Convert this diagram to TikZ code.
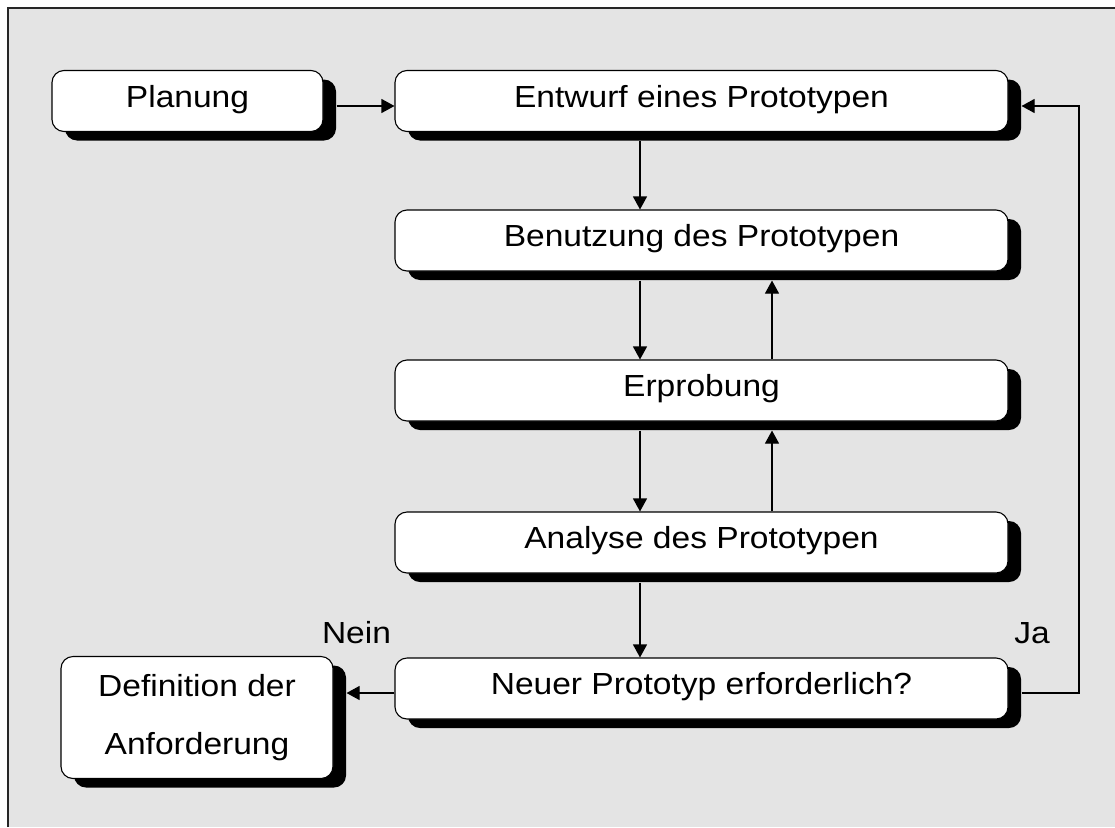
\documentclass[tikz,border=0pt]{standalone}
\usepackage{fontspec}
\setmainfont[FakeStretch=1.1]{Liberation Sans}
\usetikzlibrary{shadows,arrows.meta,calc}
\definecolor{bg}{RGB}{228,228,228}
\begin{document}
\begin{tikzpicture}[x=1pt,y=-1pt,
  boxbase/.style={draw=black, line width=1.1pt, fill=white, rounded corners=12pt,
    general shadow={fill=black, shadow xshift=13pt, shadow yshift=-9pt},
    inner sep=0pt},
  box/.style={boxbase, minimum height=61pt, minimum width=613pt,
    font=\fontsize{30.5}{36}\selectfont, text height=20pt, text depth=8pt},
  arr/.style={line width=1.1pt, -{Triangle[length=13pt,width=14pt]}},
  lbl/.style={font=\fontsize{30.5}{36}\selectfont, inner sep=0pt}]
\useasboundingbox (0,0) rectangle (1115,827);
\fill[bg] (8,8) rectangle (1115,827);
\draw[line width=1.2pt, black!85] (8,827) -- (8,8) -- (1115,8);

\node[box, minimum width=271pt] (plan) at (187.5,101) {Planung};
\node[box] (entw) at (701.5,101) {Entwurf eines Prototypen};
\node[box] (benu) at (701.5,240.5) {Benutzung des Prototypen};
\node[box] (erpr) at (701.5,390.5) {Erprobung};
\node[box] (anal) at (701.5,542.5) {Analyse des Prototypen};
\node[box] (neu) at (701.5,688.5) {Neuer Prototyp erforderlich?};
\node[boxbase, minimum width=272pt, minimum height=122pt, align=center,
  font=\fontsize{30.5}{58}\selectfont] (def) at (197,717.5) {Definition der\\Anforderung};

\node[lbl, anchor=base] (nein) at (356.5,643) {Nein};
\node[lbl, anchor=base] (ja) at (1032,643) {Ja};
\coordinate (jr) at (1079,106);

\draw[arr] ([xshift=13pt,yshift=-5pt]plan.east) -- ([yshift=-5pt]entw.west);
\draw[arr] ([xshift=-61.5pt,yshift=-9pt]entw.south) -- ([xshift=-61.5pt]benu.north);
\draw[arr] ([xshift=-61.5pt,yshift=-9pt]benu.south) -- ([xshift=-61.5pt]erpr.north);
\draw[arr] ([xshift=70.5pt]erpr.north) -- ([xshift=70.5pt,yshift=-9pt]benu.south);
\draw[arr] ([xshift=-61.5pt,yshift=-9pt]erpr.south) -- ([xshift=-61.5pt]anal.north);
\draw[arr] ([xshift=70.5pt]anal.north) -- ([xshift=70.5pt,yshift=-9pt]erpr.south);
\draw[arr] ([xshift=-61.5pt,yshift=-9pt]anal.south) -- ([xshift=-61.5pt]neu.north);
\draw[arr] ([yshift=-4.5pt]neu.west) -- ([xshift=13pt,yshift=24.5pt]def.east);
\draw[arr] ([xshift=13pt,yshift=-4.5pt]neu.east) -| (jr) -- ([xshift=13pt,yshift=-5pt]entw.east);
\end{tikzpicture}
\end{document}
